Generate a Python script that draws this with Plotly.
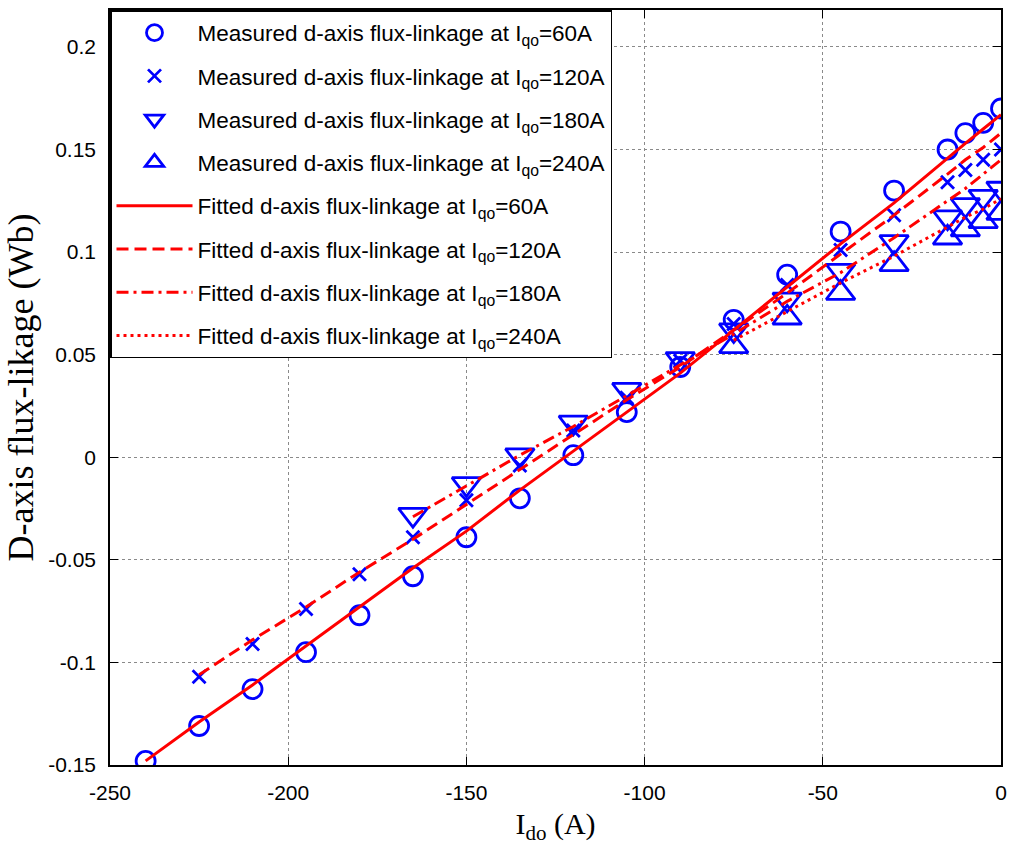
import plotly.graph_objects as go

# ---- data ----
x60 = [-240, -225, -210, -195, -180, -165, -150, -135, -120, -105, -90, -75, -60, -45, -30, -15, -10, -5, 0]
meas60 = [-0.148, -0.131, -0.113, -0.095, -0.077, -0.058, -0.039, -0.020, 0.001, 0.022, 0.044, 0.067,
          0.089, 0.110, 0.130, 0.150, 0.158, 0.163, 0.170]
fit60 = [-0.148, -0.129, -0.111, -0.092, -0.073, -0.054, -0.036, -0.016, 0.003, 0.022, 0.041, 0.062,
         0.083, 0.104, 0.124, 0.146, 0.153, 0.160, 0.167]

x120 = [-225, -210, -195, -180, -165, -150, -135, -120, -105, -90, -75, -60, -45, -30, -15, -10, -5, 0]
meas120 = [-0.107, -0.091, -0.074, -0.057, -0.039, -0.021, -0.004, 0.013, 0.029, 0.047, 0.065, 0.084,
           0.101, 0.118, 0.134, 0.140, 0.145, 0.150]
fit120 = [-0.106, -0.089, -0.073, -0.056, -0.040, -0.023, -0.006, 0.011, 0.028, 0.044, 0.062, 0.080,
          0.099, 0.118, 0.138, 0.145, 0.151, 0.158]

x180 = [-165, -150, -135, -120, -105, -90, -75, -60, -45, -30, -15, -10, -5, 0]
meas180 = [-0.028, -0.013, 0.001, 0.017, 0.033, 0.048, 0.062, 0.077, 0.091, 0.105, 0.117, 0.123, 0.127, 0.131]
fit180 = [-0.029, -0.014, 0.001, 0.015, 0.030, 0.045, 0.060, 0.076, 0.090, 0.107, 0.125, 0.131, 0.138, 0.145]

x240 = [-75, -60, -45, -30, -15, -10, -5, 0]
meas240 = [0.054, 0.068, 0.080, 0.094, 0.107, 0.111, 0.115, 0.119]
fit240 = [0.057, 0.071, 0.085, 0.098, 0.112, 0.117, 0.121, 0.126]

x_ticks = [-250, -200, -150, -100, -50, 0]
x_ticktext = ["-250", "-200", "-150", "-100", "-50", "0"]
y_ticks = [-0.15, -0.1, -0.05, 0, 0.05, 0.1, 0.15, 0.2]
y_ticktext = ["-0.15", "-0.1", "-0.05", "0", "0.05", "0.1", "0.15", "0.2"]

currents = ["60", "120", "180", "240"]

BLUE = "#0000FF"
RED = "#FF0000"
SANS = "Liberation Sans, Arial, sans-serif"
SERIF = "Liberation Serif, Times New Roman, serif"

fig = go.Figure()

measured = [(x60, meas60, "circle-open", 19), (x120, meas120, "x-thin-open", 13),
            (x180, meas180, "triangle-down-open", 25), (x240, meas240, "triangle-up-open", 25)]
for i, (xs, ys, sym, sz) in enumerate(measured):
    fig.add_trace(go.Scatter(
        x=xs, y=ys, mode="markers",
        marker=dict(symbol=sym, size=sz, color=BLUE, line=dict(color=BLUE, width=2.8)),
        name=f"Measured d-axis flux-linkage at I<sub>qo</sub>={currents[i]}A",
        legendgroup=f"g{i}", hoverinfo="skip"))

fitted = [(x60, fit60, "solid"), (x120, fit120, "12px,6px"),
          (x180, fit180, "12px,5px,3px,5px"), (x240, fit240, "3px,4px")]
for i, (xs, ys, dash) in enumerate(fitted):
    fig.add_trace(go.Scatter(
        x=xs, y=ys, mode="lines",
        line=dict(color=RED, width=3, dash=dash),
        name=f"Fitted d-axis flux-linkage at I<sub>qo</sub>={currents[i]}A",
        legendgroup=f"f{i}", hoverinfo="skip"))

axis_common = dict(
    showline=True, linecolor="black", linewidth=1.5, mirror="ticks",
    ticks="inside", ticklen=8, tickcolor="black", tickwidth=1,
    showgrid=True, gridcolor="#8a8a8a", gridwidth=1, griddash="dot",
    zeroline=False, tickfont=dict(family=SANS, size=21, color="black"),
)

fig.update_layout(
    width=1015, height=845,
    margin=dict(l=110, r=11, t=8, b=80),
    paper_bgcolor="white", plot_bgcolor="white",
    showlegend=True,
    legend=dict(
        x=0, y=1, xanchor="left", yanchor="top",
        bgcolor="white", bordercolor="black", borderwidth=1.5,
        font=dict(family=SANS, size=22.5, color="black"),
        tracegroupgap=11, itemwidth=76,
    ),
    xaxis=dict(range=[-250, 0], tickvals=x_ticks, ticktext=x_ticktext,
               ticklabelstandoff=8,
               title=dict(text="I<sub>do</sub> (A)", font=dict(family=SERIF, size=30, color="black"),
                          standoff=10),
               **axis_common),
    yaxis=dict(range=[-0.15, 0.218], tickvals=y_ticks, ticktext=y_ticktext,
               ticklabelstandoff=8,
               title=dict(text="D-axis flux-likage (Wb)", font=dict(family=SERIF, size=36, color="black"),
                          standoff=4),
               **axis_common),
)

fig.write_html("out.html")
